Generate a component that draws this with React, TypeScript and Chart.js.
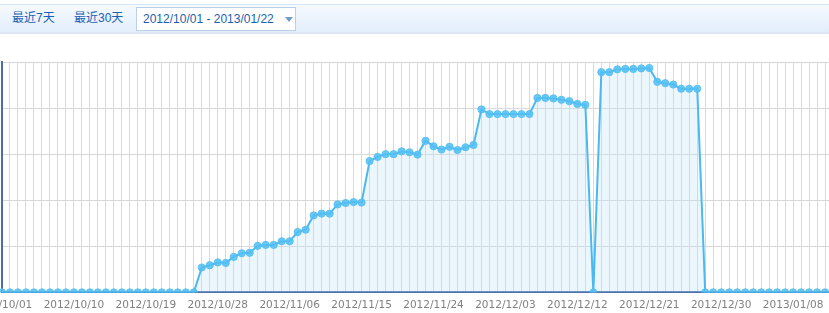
import React, { useEffect, useRef } from "react";
import { Chart, registerables } from "chart.js";

Chart.register(...registerables);

const categories: string[] = [
  "2012/10/01", "2012/10/02", "2012/10/03", "2012/10/04", "2012/10/05", "2012/10/06", "2012/10/07", "2012/10/08", "2012/10/09", "2012/10/10",
  "2012/10/11", "2012/10/12", "2012/10/13", "2012/10/14", "2012/10/15", "2012/10/16", "2012/10/17", "2012/10/18", "2012/10/19", "2012/10/20",
  "2012/10/21", "2012/10/22", "2012/10/23", "2012/10/24", "2012/10/25", "2012/10/26", "2012/10/27", "2012/10/28", "2012/10/29", "2012/10/30",
  "2012/10/31", "2012/11/01", "2012/11/02", "2012/11/03", "2012/11/04", "2012/11/05", "2012/11/06", "2012/11/07", "2012/11/08", "2012/11/09",
  "2012/11/10", "2012/11/11", "2012/11/12", "2012/11/13", "2012/11/14", "2012/11/15", "2012/11/16", "2012/11/17", "2012/11/18", "2012/11/19",
  "2012/11/20", "2012/11/21", "2012/11/22", "2012/11/23", "2012/11/24", "2012/11/25", "2012/11/26", "2012/11/27", "2012/11/28", "2012/11/29",
  "2012/11/30", "2012/12/01", "2012/12/02", "2012/12/03", "2012/12/04", "2012/12/05", "2012/12/06", "2012/12/07", "2012/12/08", "2012/12/09",
  "2012/12/10", "2012/12/11", "2012/12/12", "2012/12/13", "2012/12/14", "2012/12/15", "2012/12/16", "2012/12/17", "2012/12/18", "2012/12/19",
  "2012/12/20", "2012/12/21", "2012/12/22", "2012/12/23", "2012/12/24", "2012/12/25", "2012/12/26", "2012/12/27", "2012/12/28", "2012/12/29",
  "2012/12/30", "2012/12/31", "2013/01/01", "2013/01/02", "2013/01/03", "2013/01/04", "2013/01/05", "2013/01/06", "2013/01/07", "2013/01/08",
  "2013/01/09", "2013/01/10", "2013/01/11", "2013/01/12", "2013/01/13", "2013/01/14", "2013/01/15", "2013/01/16", "2013/01/17", "2013/01/18",
  "2013/01/19", "2013/01/20", "2013/01/21", "2013/01/22",
];

const tickLabels: string[] = [
  "2012/10/01", "2012/10/10", "2012/10/19", "2012/10/28", "2012/11/06", "2012/11/15", "2012/11/24",
  "2012/12/03", "2012/12/12", "2012/12/21", "2012/12/30", "2013/01/08", "2013/01/17",
];

const values: number[] = [
  // 10/01 - 10/25
  0, 0, 0, 0, 0, 0, 0, 0, 0, 0, 0, 0, 0, 0, 0, 0, 0, 0, 0, 0, 0, 0, 0, 0, 0,
  // 10/26 - 11/15
  54, 59, 65, 64, 77, 85, 86, 101, 103, 103, 111, 111, 131, 136, 167, 171, 171, 191, 194, 196, 195,
  // 11/16 - 11/29
  285, 294, 300, 300, 306, 304, 299, 329, 317, 310, 316, 309, 315, 320,
  // 11/30 - 12/13
  397, 387, 387, 387, 387, 387, 387, 422, 422, 421, 418, 415, 409, 407,
  // 12/14 - 12/27
  0, 478, 478, 484, 485, 485, 486, 487, 457, 454, 451, 442, 442, 442,
  // 12/28 - 01/22
  0, 0, 0, 0, 0, 0, 0, 0, 0, 0, 0, 0, 0, 0, 0, 0, 0, 0, 0, 0, 0, 0, 0, 0, 0, 0,
];

const yMax = 500;
const yStep = 100;

const CANVAS_W = 920;
const CANVAS_H = 285;

function ChartView() {
  const ref = useRef<HTMLCanvasElement | null>(null);
  useEffect(() => {
    if (!ref.current) return;
    const chart = new Chart(ref.current, {
      type: "line",
      data: {
        labels: categories,
        datasets: [
          {
            data: values,
            borderColor: "#4cb8ee",
            borderWidth: 2,
            backgroundColor: "rgba(190,228,250,0.3)",
            fill: "origin",
            tension: 0,
            pointRadius: 3.6,
            pointBorderWidth: 1,
            pointBackgroundColor: "rgba(84,190,242,0.85)",
            pointBorderColor: "rgba(84,190,242,0.9)",
          },
        ],
      },
      options: {
        responsive: false,
        animation: false,
        layout: { padding: { left: 12, top: 28, right: 0, bottom: 0 } },
        plugins: { legend: { display: false }, tooltip: { enabled: false } },
        scales: {
          x: {
            offset: false,
            afterFit: (scale: any) => {
              scale.paddingLeft = 0;
              scale.paddingRight = 0;
            },
            grid: { color: "#d9d9d9", lineWidth: 1, drawTicks: false },
            border: { color: "#4a6ea9", width: 2 },
            ticks: {
              autoSkip: false,
              maxRotation: 0,
              minRotation: 0,
              padding: 7,
              color: "#808080",
              font: { family: "'DejaVu Sans', Verdana, sans-serif", size: 10.5 },
              callback: (_v: any, i: number) =>
                tickLabels.includes(categories[i]) ? categories[i] : "",
            },
          },
          y: {
            min: 0,
            max: yMax,
            grid: { color: "#d9d9d9", lineWidth: 1, drawTicks: false },
            border: { color: "#4a6ea9", width: 2 },
            ticks: { display: false, stepSize: yStep },
          },
        },
      },
    });
    return () => chart.destroy();
  }, []);
  return (
    <div style={{ position: "absolute", left: -10, top: 34, width: CANVAS_W, height: CANVAS_H }}>
      <canvas ref={ref} width={CANVAS_W} height={CANVAS_H} style={{ display: "block" }} />
    </div>
  );
}

export default function App() {
  const linkStyle: React.CSSProperties = {
    position: "absolute",
    top: 11,
    fontSize: 12,
    lineHeight: "14px",
    color: "#1a62b5",
    fontFamily: "'Liberation Sans', Arial, 'Noto Sans CJK SC', sans-serif",
    whiteSpace: "nowrap",
  };
  return (
    <div
      style={{
        position: "fixed",
        left: 0,
        top: 0,
        width: 829,
        height: 313,
        overflow: "hidden",
        background: "#ffffff",
      }}
    >
      <div
        style={{
          position: "absolute",
          left: 0,
          top: 4,
          width: 829,
          height: 27,
          borderTop: "1px solid #d3e5f6",
          borderBottom: "2px solid #dde7f1",
          background: "linear-gradient(#f6faff, #e2eefb)",
        }}
      />
      <span style={{ ...linkStyle, left: 12 }}>最近7天</span>
      <span style={{ ...linkStyle, left: 74 }}>最近30天</span>
      <div
        style={{
          position: "absolute",
          left: 136,
          top: 7,
          width: 158,
          height: 22,
          border: "1px solid #b9d0e8",
          background: "#ffffff",
        }}
      >
        <span style={{ ...linkStyle, top: 4, left: 6, color: "#1a5fb0" }}>
          2012/10/01 - 2013/01/22
        </span>
        <div
          style={{
            position: "absolute",
            left: 148,
            top: 9,
            width: 0,
            height: 0,
            borderLeft: "4px solid transparent",
            borderRight: "4px solid transparent",
            borderTop: "5px solid #6f9bd0",
          }}
        />
      </div>
      <ChartView />
    </div>
  );
}
